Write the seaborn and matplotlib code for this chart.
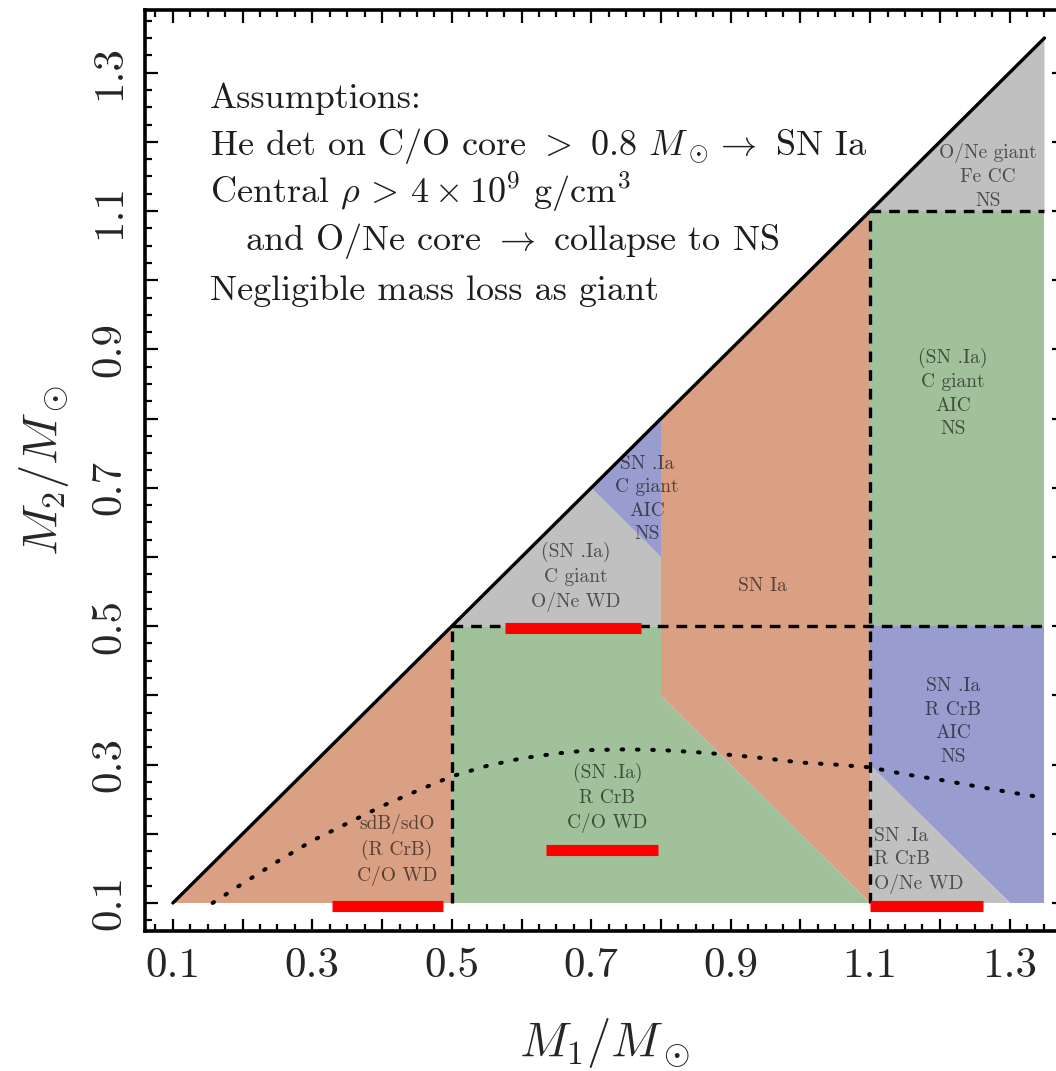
import matplotlib
matplotlib.use("Agg")
import matplotlib.pyplot as plt
import seaborn as sns
import pandas as pd
from matplotlib.ticker import MultipleLocator

# ---------------- data ----------------
diag_x = [0.1, 1.35]
diag_y = [0.1, 1.35]

# dotted curve
dot_x = [0.157, 0.2, 0.25, 0.3, 0.35, 0.4, 0.45, 0.5, 0.55, 0.6, 0.65, 0.7, 0.75,
         0.8, 0.85, 0.9, 0.95, 1.0, 1.05, 1.1, 1.15, 1.2, 1.25, 1.3, 1.35]
dot_y = [0.1, 0.128, 0.16, 0.19, 0.215, 0.24, 0.262, 0.283, 0.298, 0.309, 0.316,
         0.321, 0.322, 0.321, 0.318, 0.314, 0.309, 0.303, 0.3, 0.296, 0.286, 0.278,
         0.269, 0.26, 0.252]

# region polygons (vertices in M1, M2)
orange_left_x = [0.1, 0.5, 0.5]
orange_left_y = [0.1, 0.5, 0.1]
green_mid_x = [0.5, 0.5, 0.8, 0.8, 1.1]
green_mid_y = [0.1, 0.5, 0.5, 0.4, 0.1]
orange_mid_x = [0.8, 1.1, 1.1, 0.8]
orange_mid_y = [0.8, 1.1, 0.1, 0.4]
gray_mid_x = [0.5, 0.7, 0.8, 0.8]
gray_mid_y = [0.5, 0.7, 0.6, 0.5]
blue_mid_x = [0.7, 0.8, 0.8]
blue_mid_y = [0.7, 0.8, 0.6]
gray_top_x = [1.1, 1.35, 1.35]
gray_top_y = [1.1, 1.35, 1.1]
green_right_x = [1.1, 1.35, 1.35, 1.1]
green_right_y = [0.5, 0.5, 1.1, 1.1]
blue_right_x = [1.1, 1.1, 1.35, 1.35, 1.3]
blue_right_y = [0.3, 0.5, 0.5, 0.1, 0.1]
gray_low_x = [1.1, 1.1, 1.3]
gray_low_y = [0.1, 0.3, 0.1]

# dashed boundaries
dash_segments = [([0.5, 0.5], [0.1, 0.5]),
                 ([0.5, 1.35], [0.5, 0.5]),
                 ([1.1, 1.1], [0.1, 1.1]),
                 ([1.1, 1.35], [1.1, 1.1])]

# red highlight bars: (x0, x1, y)
red_bars = [(0.328, 0.487, 0.0955),
            (0.635, 0.796, 0.177),
            (0.576, 0.771, 0.497),
            (1.100, 1.262, 0.0955)]

tick_pos = [0.1, 0.2, 0.3, 0.4, 0.5, 0.6, 0.7, 0.8, 0.9, 1.0, 1.1, 1.2, 1.3]
tick_labels = ["0.1", "", "0.3", "", "0.5", "", "0.7", "", "0.9", "", "1.1", "", "1.3"]

region_labels = [
    (0.421, 0.176, "sdB/sdO\n(R CrB)\nC/O WD", "center"),
    (0.723, 0.252, "(SN .Ia)\nR CrB\nC/O WD", "center"),
    (0.678, 0.571, "(SN .Ia)\nC giant\nO/Ne WD", "center"),
    (0.780, 0.684, "SN .Ia\nC giant\nAIC\nNS", "center"),
    (0.946, 0.558, "SN Ia", "center"),
    (1.219, 0.837, "(SN .Ia)\nC giant\nAIC\nNS", "center"),
    (1.269, 1.150, "O/Ne giant\nFe CC\nNS", "center"),
    (1.219, 0.362, "SN .Ia\nR CrB\nAIC\nNS", "center"),
    (1.106, 0.161, "SN .Ia\nR CrB\nO/Ne WD", "left"),
]

assump_lines = [
    (0.153, 1.2488, "Assumptions:"),
    (0.153, 1.181, r"He det on C/O core $>$ 0.8 $M_\odot \rightarrow$ SN Ia"),
    (0.153, 1.1116, r"Central $\rho\, >\, 4 \times 10^9$ g/cm$^3$"),
    (0.203, 1.0436, r"and O/Ne core $\rightarrow$ collapse to NS"),
    (0.153, 0.9714, "Negligible mass loss as giant"),
]

# ---------------- style ----------------
sns.set_theme(style="ticks")
plt.rcParams["font.family"] = ["cmr10", "DejaVu Serif"]
plt.rcParams["mathtext.fontset"] = "cm"
plt.rcParams["axes.formatter.use_mathtext"] = True

C_ORANGE = "#d9a084"
C_GREEN = "#a1c19a"
C_GRAY = "#c0c0c0"
C_BLUE = "#989cce"

fig = plt.figure(figsize=(10.56, 10.71), dpi=100)
ax = fig.add_axes([145 / 1056, 140 / 1071, 919 / 1056, 921 / 1071])

for xs, ys, c in [(orange_left_x, orange_left_y, C_ORANGE),
                  (green_mid_x, green_mid_y, C_GREEN),
                  (orange_mid_x, orange_mid_y, C_ORANGE),
                  (gray_mid_x, gray_mid_y, C_GRAY),
                  (blue_mid_x, blue_mid_y, C_BLUE),
                  (gray_top_x, gray_top_y, C_GRAY),
                  (green_right_x, green_right_y, C_GREEN),
                  (blue_right_x, blue_right_y, C_BLUE),
                  (gray_low_x, gray_low_y, C_GRAY)]:
    ax.fill(xs, ys, color=c, lw=0, zorder=1)

sns.lineplot(x=diag_x, y=diag_y, ax=ax, color="black", lw=2.4, sort=False, zorder=4)
sns.lineplot(x=dot_x, y=dot_y, ax=ax, color="black", lw=2.9, sort=False, zorder=4,
             linestyle=(0, (0.4, 3.4)), dash_capstyle="round")
for xs, ys in dash_segments:
    ax.plot(xs, ys, color="black", lw=2.4, linestyle=(0, (3.2, 2.4)), zorder=4)

for x0, x1, y in red_bars:
    ax.plot([x0, x1], [y, y], color="#ff0000", lw=8, solid_capstyle="butt", zorder=5)

for x, y, s, ha in region_labels:
    ax.text(x, y, s, ha=ha, va="center", fontsize=14, color="black", alpha=0.6,
            linespacing=1.4, zorder=3)

for x, y, s in assump_lines:
    ax.text(x, y, s, ha="left", va="baseline", fontsize=26, color="#1e1e1e", zorder=6)

ax.set_xlim(0.06, 1.378)
ax.set_ylim(0.0595, 1.3905)
ax.set_xticks(tick_pos)
ax.set_xticklabels(tick_labels)
ax.set_yticks(tick_pos)
ax.set_yticklabels(tick_labels, rotation=90, va="center")
ax.xaxis.set_minor_locator(MultipleLocator(0.025))
ax.yaxis.set_minor_locator(MultipleLocator(0.025))
ax.tick_params(which="both", direction="in", top=True, right=True, color="black", width=1.6)
ax.tick_params(which="major", length=9, labelsize=31, pad=12)
ax.tick_params(which="minor", length=5)
for sp in ax.spines.values():
    sp.set_linewidth(2.6)
    sp.set_color("black")
ax.set_xlabel(r"$M_1/M_\odot$", fontsize=35, labelpad=22)
ax.set_ylabel(r"$M_2/M_\odot$", fontsize=35, labelpad=14)

fig.savefig("out.png", dpi=100)
